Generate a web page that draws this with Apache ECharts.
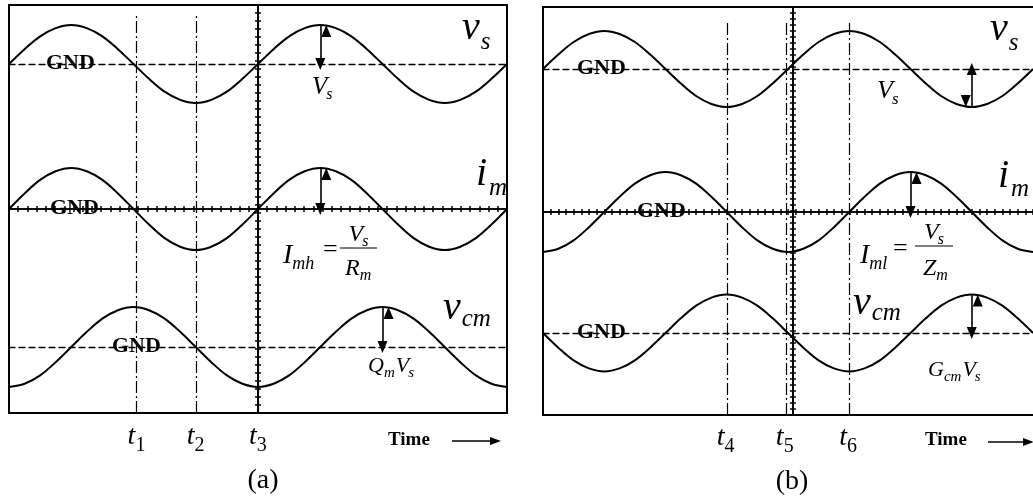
<!DOCTYPE html>
<html>
<head>
<meta charset="utf-8">
<script src="https://cdn.jsdelivr.net/npm/echarts@6/dist/echarts.min.js"></script>
<style>
  html, body { margin: 0; padding: 0; background: #fff; }
  #chart { width: 1033px; height: 500px; }
</style>
</head>
<body>
<div id="chart"></div>
<script>
// Sample instants (two periods across each panel, 16 units wide)
const T = [-8,-7.5,-7,-6.5,-6,-5.5,-5,-4.5,-4,-3.5,-3,-2.5,-2,-1.5,-1,-0.5,0,0.5,1,1.5,2,2.5,3,3.5,4,4.5,5,5.5,6,6.5,7,7.5,8];

// (a) high-frequency case: normalised waveforms
const vsA  = [0,0.38,0.71,0.92,1,0.92,0.71,0.38,0,-0.38,-0.71,-0.92,-1,-0.92,-0.71,-0.38,0,0.38,0.71,0.92,1,0.92,0.71,0.38,0,-0.38,-0.71,-0.92,-1,-0.92,-0.71,-0.38,0];
const imA  = [0,0.38,0.71,0.92,1,0.92,0.71,0.38,0,-0.38,-0.71,-0.92,-1,-0.92,-0.71,-0.38,0,0.38,0.71,0.92,1,0.92,0.71,0.38,0,-0.38,-0.71,-0.92,-1,-0.92,-0.71,-0.38,0];
const vcmA = [-1,-0.92,-0.71,-0.38,0,0.38,0.71,0.92,1,0.92,0.71,0.38,0,-0.38,-0.71,-0.92,-1,-0.92,-0.71,-0.38,0,0.38,0.71,0.92,1,0.92,0.71,0.38,0,-0.38,-0.71,-0.92,-1];

// (b) low-frequency case: normalised waveforms
const vsB  = [0,0.38,0.71,0.92,1,0.92,0.71,0.38,0,-0.38,-0.71,-0.92,-1,-0.92,-0.71,-0.38,0,0.38,0.71,0.92,1,0.92,0.71,0.38,0,-0.38,-0.71,-0.92,-1,-0.92,-0.71,-0.38,0];
const imB  = [-1,-0.92,-0.71,-0.38,0,0.38,0.71,0.92,1,0.92,0.71,0.38,0,-0.38,-0.71,-0.92,-1,-0.92,-0.71,-0.38,0,0.38,0.71,0.92,1,0.92,0.71,0.38,0,-0.38,-0.71,-0.92,-1];
const vcmB = [0,-0.38,-0.71,-0.92,-1,-0.92,-0.71,-0.38,0,0.38,0.71,0.92,1,0.92,0.71,0.38,0,-0.38,-0.71,-0.92,-1,-0.92,-0.71,-0.38,0,0.38,0.71,0.92,1,0.92,0.71,0.38,0];

// Time markers and their subscripts
const markTA = [-3.9, -2, 0];
const markNA = ['1', '2', '3'];
const markTB = [-2, -0.07, 2];
const markNB = ['4', '5', '6'];

// Amplitude arrows: [time, peak value] for vs, im, vcm
const arrowA = [[2, 1], [2, 1], [4, 1]];
const arrowB = [[6, -1], [4, 1], [6, 1]];

// ---------------------------------------------------------------
const PANELS = [
  {
    rect: { left: 9, top: 5, width: 498, height: 408 },
    rightBorder: true, centre: 0, hTick: 0.2962962962962963, vTick: 8, markGap: 10,
    rows: [
      { base: 64,  amp: 39, data: vsA,  kind: 'dash' },
      { base: 209, amp: 41, data: imA,  kind: 'tick' },
      { base: 347, amp: 40, data: vcmA, kind: 'dash' }
    ],
    arrows: arrowA, marks: markTA, markNames: markNA
  },
  {
    rect: { left: 543, top: 7, width: 490, height: 408 },
    rightBorder: false, centre: 0.16, hTick: 0.25, vTick: 6, markGap: 15,
    rows: [
      { base: 69,  amp: 38,   data: vsB,  kind: 'dash' },
      { base: 212, amp: 40,   data: imB,  kind: 'tick' },
      { base: 333, amp: 38.5, data: vcmB, kind: 'dash' }
    ],
    arrows: arrowB, marks: markTB, markNames: markNB
  }
];

const BLACK = '#000';
const grids = [], xAxes = [], yAxes = [], series = [];

function hiddenBits() {
  return { axisLabel: { show: false }, axisTick: { show: false }, splitLine: { show: false } };
}
function addGrid(r) { grids.push({ left: r.left, top: r.top, width: r.width, height: r.height, containLabel: false }); return grids.length - 1; }
function addX(o) { xAxes.push(Object.assign({ type: 'value' }, hiddenBits(), o)); return xAxes.length - 1; }
function addY(o) { yAxes.push(Object.assign({ type: 'value' }, hiddenBits(), o)); return yAxes.length - 1; }

PANELS.forEach(P => {
  const r = P.rect;
  const border = { show: true, onZero: false, lineStyle: { color: BLACK, width: 2 } };

  // outer frame + dash-dot time markers
  const gf = addGrid(r);
  const xf = addX({ gridIndex: gf, position: 'bottom', min: -8, max: 8, axisLine: border });
  addX({ gridIndex: gf, position: 'top', min: -8, max: 8, axisLine: border });
  const yf = addY({ gridIndex: gf, position: 'left', min: 0, max: r.height, axisLine: border });
  if (P.rightBorder) addY({ gridIndex: gf, position: 'right', min: 0, max: r.height, axisLine: border });
  series.push({
    type: 'line', xAxisIndex: xf, yAxisIndex: yf, data: [[-8, 0]], showSymbol: false,
    lineStyle: { width: 0 }, silent: true,
    markLine: {
      silent: true, symbol: 'none', label: { show: false },
      lineStyle: { type: [12, 3, 2, 3], color: BLACK, width: 1.2 },
      data: P.marks.map(t => [{ coord: [t, 0] }, { coord: [t, r.height - P.markGap] }])
    }
  });

  // centre graticule line with minor ticks on both sides
  const gc = addGrid(r);
  const xc = addX({ gridIndex: gc, show: false, min: -8 - P.centre, max: 8 - P.centre });
  ['left', 'right'].forEach(pos => addY({
    gridIndex: gc, position: pos, min: 0, max: r.height, interval: P.vTick,
    axisLine: { show: true, onZero: true, onZeroAxisIndex: xc, lineStyle: { color: BLACK, width: 2 } },
    axisTick: { show: true, length: 3, lineStyle: { color: BLACK, width: 1.5 } }
  }));

  // waveform rows
  P.rows.forEach((row, k) => {
    const g = addGrid({ left: r.left, width: r.width, top: row.base - row.amp, height: 2 * row.amp });
    const y = addY({ gridIndex: g, show: false, min: -1, max: 1 });
    let x;
    if (row.kind === 'dash') {
      x = addX({ gridIndex: g, min: -8, max: 8,
        axisLine: { show: true, onZero: true, onZeroAxisIndex: y, lineStyle: { color: BLACK, width: 1.3, type: [6, 4] } } });
    } else {
      ['bottom', 'top'].forEach((pos, j) => {
        const id = addX({ gridIndex: g, position: pos, min: -8, max: 8, interval: P.hTick,
          axisLine: { show: true, onZero: true, onZeroAxisIndex: y, lineStyle: { color: BLACK, width: 1.5 } },
          axisTick: { show: true, length: 3, lineStyle: { color: BLACK, width: 1.5 } } });
        if (j === 0) x = id;
      });
    }
    const a = P.arrows[k];
    series.push({
      type: 'line', xAxisIndex: x, yAxisIndex: y, clip: false,
      data: T.map((t, i) => [t, row.data[i]]),
      smooth: 0.35, showSymbol: false, symbol: 'none',
      lineStyle: { color: BLACK, width: 2 },
      markLine: {
        silent: true, symbol: ['triangle', 'triangle'], symbolSize: [10, 12], symbolOffset: [0, 6],
        label: { show: false },
        lineStyle: { type: 'solid', color: BLACK, width: 1.6 },
        itemStyle: { color: BLACK },
        data: [[{ coord: [a[0], 0] }, { coord: [a[0], a[1]] }]]
      }
    });
  });
});

// ---------------------------------------------------------------
// Annotation text
const FF = '"Liberation Serif", "Times New Roman", serif';
const mctx = document.createElement('canvas').getContext('2d');
const fnt = t => (t.i ? 'italic ' : '') + (t.b ? 'bold ' : '') + t.fs + 'px ' + FF;
const I = (s, fs, dy, g) => ({ s, fs, dy: dy || 0, g: g || 0, i: true });
const R = (s, fs, dy, g) => ({ s, fs, dy: dy || 0, g: g || 0 });
const B = (s, fs, dy, g) => ({ s, fs, dy: dy || 0, g: g || 0, b: true });
const gfx = [];

function chain(x, base, toks, align) {
  const ws = toks.map(t => { mctx.font = fnt(t); return mctx.measureText(t.s).width; });
  const total = ws.reduce((s, w, i) => s + w + toks[i].g, 0);
  let cx = align === 'center' ? x - total / 2 : x;
  toks.forEach((t, i) => {
    cx += t.g;
    gfx.push({ type: 'text', x: cx, y: base + t.dy - 0.34 * t.fs, silent: true, z: 1,
      style: { text: t.s, font: fnt(t), fill: BLACK, align: 'left', verticalAlign: 'middle' } });
    cx += ws[i];
  });
}
function hline(x1, x2, y, w) {
  gfx.push({ type: 'line', silent: true, shape: { x1, y1: y, x2, y2: y }, style: { stroke: BLACK, lineWidth: w || 1.2 } });
}
function timeArrow(x1, x2, y) {
  hline(x1, x2 - 8, y, 1.5);
  gfx.push({ type: 'polygon', silent: true, shape: { points: [[x2 - 11, y - 4], [x2, y], [x2 - 11, y + 4]] }, style: { fill: BLACK } });
}
const px = (P, t) => P.rect.left + (t + 8) / 16 * P.rect.width;

// panel (a)
chain(462, 42, [I('v', 40), I('s', 25, 9, 1)]);
chain(312, 96, [I('V', 25), I('s', 16, 4, -1)]);
chain(476, 188, [I('i', 40), I('m', 25, 9, 2)]);
chain(283, 265, [I('I', 28), I('mh', 18, 5, 0)]);
chain(323, 259, [R('=', 26)]);
hline(340, 377, 248);
chain(358.5, 243, [I('V', 24), I('s', 16, 4, -1)], 'center');
chain(345, 277, [I('R', 24), I('m', 16, 4, 0)]);
chain(443, 322, [I('v', 40), I('cm', 25, 6, 1)]);
chain(368, 374, [I('Q', 22), I('m', 15, 4, 0), I('V', 22, 0, 1), I('s', 15, 4, -1)]);
chain(46, 71, [B('GND', 22)]);
chain(50, 216, [B('GND', 22)]);
chain(112, 354, [B('GND', 22)]);
PANELS[0].marks.forEach((t, k) => chain(px(PANELS[0], t) - 9, 446, [I('t', 28), R(PANELS[0].markNames[k], 20, 7, 0)]));
chain(388, 447, [B('Time', 19)]);
timeArrow(452, 501, 441);
chain(263, 490, [R('(a)', 28)], 'center');

// panel (b)
chain(990, 43, [I('v', 40), I('s', 25, 9, 1)]);
chain(877, 100, [I('V', 26), I('s', 17, 5, -1)]);
chain(998, 190, [I('i', 40), I('m', 25, 8, 2)]);
chain(860, 265, [I('I', 28), I('ml', 18, 5, 0)]);
chain(893, 258, [R('=', 26)]);
hline(915, 953, 246);
chain(934, 241, [I('V', 24), I('s', 16, 4, -1)], 'center');
chain(923, 277, [I('Z', 24), I('m', 16, 4, 0)]);
chain(853, 317, [I('v', 40), I('cm', 25, 5, 1)]);
chain(928, 378, [I('G', 22), I('cm', 15, 4, 0), I('V', 22, 0, 1), I('s', 15, 4, -1)]);
chain(577, 76, [B('GND', 22)]);
chain(637, 219, [B('GND', 22)]);
chain(577, 340, [B('GND', 22)]);
PANELS[1].marks.forEach((t, k) => chain(px(PANELS[1], t) - 10, 447, [I('t', 28), R(PANELS[1].markNames[k], 20, 7, 0)]));
chain(925, 447, [B('Time', 19)]);
timeArrow(988, 1034, 442);
chain(792, 491, [R('(b)', 28)], 'center');

const chart = echarts.init(document.getElementById('chart'), null, { renderer: 'canvas' });
chart.setOption({
  animation: false,
  backgroundColor: '#fff',
  grid: grids,
  xAxis: xAxes,
  yAxis: yAxes,
  series: series,
  graphic: { elements: gfx }
});
</script>
</body>
</html>
